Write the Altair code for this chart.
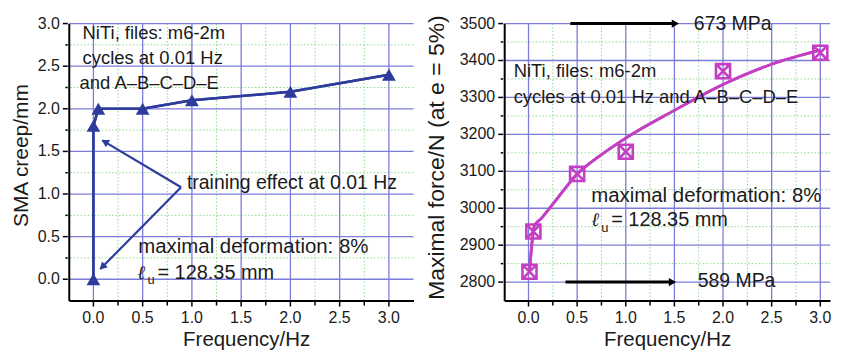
import math
import altair as alt
import pandas as pd

# ---------------- data ----------------
# left panel: SMA creep vs frequency
freq_left = [0.0, 0.0, 0.05, 0.5, 1.0, 2.0, 3.0]
creep = [0.0, 1.8, 2.0, 2.0, 2.1, 2.2, 2.4]

# right panel: maximal force vs frequency
freq_right = [0.01, 0.05, 0.5, 1.0, 2.0, 3.0]
force = [2828, 2937, 3093, 3153, 3371, 3421]
fit_freq = [0.01, 0.03, 0.06, 0.13, 0.25, 0.5, 0.75, 1.0, 1.5, 2.0, 2.5, 3.0]
fit_force = [2828, 2890, 2952, 2972, 3011, 3092, 3145, 3190, 3265, 3335, 3390, 3428]

# tick values and labels (major every 0.5 / 100, minor in between)
x_major = [0.0, 0.5, 1.0, 1.5, 2.0, 2.5, 3.0]
x_labels = ["0.0", "0.5", "1.0", "1.5", "2.0", "2.5", "3.0"]
x_minor = [0.25, 0.75, 1.25, 1.75, 2.25, 2.75]
left_y_major = [0.0, 0.5, 1.0, 1.5, 2.0, 2.5, 3.0]
left_y_labels = ["0.0", "0.5", "1.0", "1.5", "2.0", "2.5", "3.0"]
left_y_minor = [0.25, 0.75, 1.25, 1.75, 2.25, 2.75]
right_y_major = [2800, 2900, 3000, 3100, 3200, 3300, 3400, 3500]
right_y_labels = ["2800", "2900", "3000", "3100", "3200", "3300", "3400", "3500"]
right_y_minor = [2850, 2950, 3050, 3150, 3250, 3350, 3450]

# annotation arrows (data units): left panel "training effect" arrows
train_arrow_x = [0.89, 0.09, 0.89, 0.07]
train_arrow_y = [1.08, 1.63, 1.08, 0.12]
train_arrow_grp = [1, 1, 2, 2]
# right panel stress arrows
mpa_arrow_x = [0.43, 1.51, 0.38, 1.48]
mpa_arrow_y = [3500, 3500, 2800, 2800]
mpa_arrow_grp = [1, 1, 2, 2]

# annotation texts
left_text = ["NiTi, files: m6-2m", "cycles at 0.01 Hz", "and A\u2013B\u2013C\u2013D\u2013E",
             "training effect at 0.01 Hz", "maximal deformation: 8%", "= 128.35 mm"]
left_text_x = [-0.11, -0.11, -0.14, 0.95, 0.455, 0.65]
left_text_y = [2.82, 2.53, 2.23, 1.06, 0.31, 0.0]
left_text_size = [18.5, 18.5, 18.5, 19.5, 20.5, 20]
left_ell = [0.445, 0.0]
left_sub = [0.548, -0.06]

right_text = ["NiTi, files: m6-2m", "cycles at 0.01 Hz and A\u2013B\u2013C\u2013D\u2013E",
              "maximal deformation: 8%", "= 128.35 mm"]
right_text_x = [-0.153, -0.153, 0.644, 0.85]
right_text_y = [3354, 3286, 3016, 2951]
right_text_size = [18.5, 18.5, 20.5, 20]
right_ell = [0.644, 2951]
right_sub = [0.748, 2935]
mpa_text = ["673 MPa", "589 MPa"]
mpa_text_x = [1.70, 1.74]
mpa_text_y = [3500, 2804]

# ---------------- style ----------------
FONT = "Liberation Sans"
BLUE = "#2d3c9c"
MAGENTA = "#c43fc4"
MAJOR = "#7c7cdb"
MINOR = "#8fd88f"
TXT = "#1a1a1a"
LABEL_SIZE = 16

LW, LH = 346, 278
RW, RH = 327, 278


def make_axis(title, tsize, **kw):
    return alt.Axis(
        title=title,
        labels=False,
        ticks=False,
        grid=False,
        domainColor="black",
        domainWidth=2,
        titleFont=FONT,
        titleFontSize=tsize,
        titleFontWeight="normal",
        titleColor=TXT,
        zindex=1,
        **kw,
    )


def frame_layers(xs, ys, xmaj, xlab, xmin, ymaj, ylab, ymin, h):
    out = []
    # grid
    out.append(alt.Chart(pd.DataFrame({"v": xmin})).mark_rule(
        color=MINOR, strokeWidth=1, strokeDash=[1.5, 2]).encode(x=alt.X("v:Q", scale=xs)))
    out.append(alt.Chart(pd.DataFrame({"v": ymin})).mark_rule(
        color=MINOR, strokeWidth=1, strokeDash=[1.5, 2]).encode(y=alt.Y("v:Q", scale=ys)))
    out.append(alt.Chart(pd.DataFrame({"v": xmaj})).mark_rule(
        color=MAJOR, strokeWidth=1.3).encode(x=alt.X("v:Q", scale=xs)))
    out.append(alt.Chart(pd.DataFrame({"v": ymaj})).mark_rule(
        color=MAJOR, strokeWidth=1.3).encode(y=alt.Y("v:Q", scale=ys)))
    # ticks just outside the axes
    out.append(alt.Chart(pd.DataFrame({"v": xmaj})).mark_rule(
        color="black", strokeWidth=1.5).encode(
        x=alt.X("v:Q", scale=xs), y=alt.value(h + 1), y2=alt.value(h + 6)))
    out.append(alt.Chart(pd.DataFrame({"v": xmin})).mark_rule(
        color="black", strokeWidth=1.5).encode(
        x=alt.X("v:Q", scale=xs), y=alt.value(h + 1), y2=alt.value(h + 5)))
    out.append(alt.Chart(pd.DataFrame({"v": ymaj})).mark_rule(
        color="black", strokeWidth=1.5).encode(
        y=alt.Y("v:Q", scale=ys), x=alt.value(-1), x2=alt.value(-6)))
    out.append(alt.Chart(pd.DataFrame({"v": ymin})).mark_rule(
        color="black", strokeWidth=1.5).encode(
        y=alt.Y("v:Q", scale=ys), x=alt.value(-1), x2=alt.value(-3.5)))
    # tick labels
    out.append(alt.Chart(pd.DataFrame({"v": xmaj, "t": xlab})).mark_text(
        align="center", baseline="top", font=FONT, fontSize=LABEL_SIZE, color=TXT).encode(
        x=alt.X("v:Q", scale=xs), y=alt.value(h + 10), text="t:N"))
    out.append(alt.Chart(pd.DataFrame({"v": ymaj, "t": ylab})).mark_text(
        align="right", baseline="middle", font=FONT, fontSize=LABEL_SIZE, color=TXT).encode(
        y=alt.Y("v:Q", scale=ys), x=alt.value(-9), text="t:N"))
    return out


def texts(xs, ys, t, x, y, s):
    layers = []
    for ti, xi, yi, si in zip(t, x, y, s):
        layers.append(alt.Chart(pd.DataFrame({"t": [ti], "x": [xi], "y": [yi]})).mark_text(
            align="left", baseline="alphabetic", font=FONT, fontSize=si, color=TXT
        ).encode(x=alt.X("x:Q", scale=xs), y=alt.Y("y:Q", scale=ys), text="t:N"))
    return layers


def ell_layers(xs, ys, ell, sub):
    a = alt.Chart(pd.DataFrame({"x": [ell[0]], "y": [ell[1]], "t": ["\u2113"]})).mark_text(
        align="left", baseline="alphabetic", font="DejaVu Serif", fontStyle="italic",
        fontSize=19, color=TXT
    ).encode(x=alt.X("x:Q", scale=xs), y=alt.Y("y:Q", scale=ys), text="t:N")
    b = alt.Chart(pd.DataFrame({"x": [sub[0]], "y": [sub[1]], "t": ["u"]})).mark_text(
        align="left", baseline="alphabetic", font=FONT, fontSize=13, color=TXT
    ).encode(x=alt.X("x:Q", scale=xs), y=alt.Y("y:Q", scale=ys), text="t:N")
    return [a, b]


# ---------------- left panel ----------------
xs_l = alt.Scale(domain=[-0.25, 3.25], nice=False, zero=False)
ys_l = alt.Scale(domain=[-0.25, 3.0], nice=False, zero=False)

df_l = pd.DataFrame({"f": freq_left, "c": creep, "o": list(range(len(creep)))})

base_l = alt.Chart(df_l).encode(
    x=alt.X("f:Q", scale=xs_l,
            axis=make_axis("Frequency/Hz", 20.5, titlePadding=29, titleX=LW / 2 + 5)),
    y=alt.Y("c:Q", scale=ys_l,
            axis=make_axis("SMA creep/mm", 21, titlePadding=37, titleY=LH / 2 - 7)),
)
line_l = base_l.mark_line(color=BLUE, strokeWidth=2.5).encode(order="o:Q")
pts_l = base_l.mark_point(shape="triangle-up", filled=True, size=190, color=BLUE, opacity=1)

pxx_l = LW / 3.5
pxy_l = LH / 3.25
df_ta = pd.DataFrame({"x": train_arrow_x, "y": train_arrow_y, "g": train_arrow_grp})
arr_l = alt.Chart(df_ta).mark_line(color=BLUE, strokeWidth=2.2).encode(
    x=alt.X("x:Q", scale=xs_l), y=alt.Y("y:Q", scale=ys_l), detail="g:N"
)
heads = []
for i in (0, 2):
    x0, y0 = train_arrow_x[i], train_arrow_y[i]
    x1, y1 = train_arrow_x[i + 1], train_arrow_y[i + 1]
    dx = (x1 - x0) * pxx_l
    dy = -(y1 - y0) * pxy_l
    ang = math.degrees(math.atan2(dx, -dy)) % 360
    L = math.hypot(dx, dy)
    hx = x1 - 3 * dx / L / pxx_l
    hy = y1 + 3 * dy / L / pxy_l
    heads.append({"x": hx, "y": hy, "a": ang})
head_l = alt.Chart(pd.DataFrame(heads)).mark_point(
    shape="triangle-up", filled=True, size=70, color=BLUE, opacity=1
).encode(x=alt.X("x:Q", scale=xs_l), y=alt.Y("y:Q", scale=ys_l), angle=alt.Angle("a:Q", scale=None))

left = alt.layer(
    line_l,
    *frame_layers(xs_l, ys_l, x_major, x_labels, x_minor, left_y_major, left_y_labels, left_y_minor, LH),
    line_l, arr_l, head_l, pts_l,
    *texts(xs_l, ys_l, left_text, left_text_x, left_text_y, left_text_size),
    *ell_layers(xs_l, ys_l, left_ell, left_sub),
).properties(width=LW, height=LH)

# ---------------- right panel ----------------
xs_r = alt.Scale(domain=[-0.25, 3.10], nice=False, zero=False)
ys_r = alt.Scale(domain=[2750, 3500], nice=False, zero=False)

df_fit = pd.DataFrame({"f": fit_freq, "F": fit_force})
fit = alt.Chart(df_fit).mark_line(color=MAGENTA, strokeWidth=2.8, interpolate="monotone").encode(
    x=alt.X("f:Q", scale=xs_r, axis=make_axis("Frequency/Hz", 20.5, titlePadding=29)),
    y=alt.Y("F:Q", scale=ys_r,
            axis=make_axis("Maximal force/N (at e = 5%)", 23, titlePadding=56, titleY=RH / 2 - 5)),
)
BOXX = "M-1,-1L1,-1L1,1L-1,1Z M-1,-1L1,1 M1,-1L-1,1"
pts_r = alt.Chart(pd.DataFrame({"f": freq_right, "F": force})).mark_point(
    shape=BOXX, filled=False, size=200, color=MAGENTA, strokeWidth=2.6, opacity=1
).encode(x=alt.X("f:Q", scale=xs_r), y=alt.Y("F:Q", scale=ys_r))

df_ma = pd.DataFrame({"x": mpa_arrow_x, "y": mpa_arrow_y, "g": mpa_arrow_grp})
arr_r = alt.Chart(df_ma).mark_line(color="black", strokeWidth=3).encode(
    x=alt.X("x:Q", scale=xs_r), y=alt.Y("y:Q", scale=ys_r), detail="g:N"
)
head_r = alt.Chart(pd.DataFrame({"x": [mpa_arrow_x[1], mpa_arrow_x[3]],
                                 "y": [mpa_arrow_y[1], mpa_arrow_y[3]]})).mark_point(
    shape="triangle-right", filled=True, size=70, color="black", opacity=1
).encode(x=alt.X("x:Q", scale=xs_r), y=alt.Y("y:Q", scale=ys_r))

mpa_r = alt.Chart(pd.DataFrame({"t": mpa_text, "x": mpa_text_x, "y": mpa_text_y})).mark_text(
    align="left", baseline="middle", font=FONT, fontSize=19.5, color=TXT
).encode(x=alt.X("x:Q", scale=xs_r), y=alt.Y("y:Q", scale=ys_r), text="t:N")

right = alt.layer(
    fit,
    *frame_layers(xs_r, ys_r, x_major, x_labels, x_minor, right_y_major, right_y_labels, right_y_minor, RH),
    fit, arr_r, head_r, pts_r, mpa_r,
    *texts(xs_r, ys_r, right_text, right_text_x, right_text_y, right_text_size),
    *ell_layers(xs_r, ys_r, right_ell, right_sub),
).properties(width=RW, height=RH)

chart = (
    alt.hconcat(left, right, spacing=91, bounds="flush")
    .properties(padding={"left": 3, "top": 5, "right": 0, "bottom": 0}, background="white")
    .configure_view(stroke=None)
)

chart.save("out.html", embed_options={"renderer": "svg", "actions": False})
